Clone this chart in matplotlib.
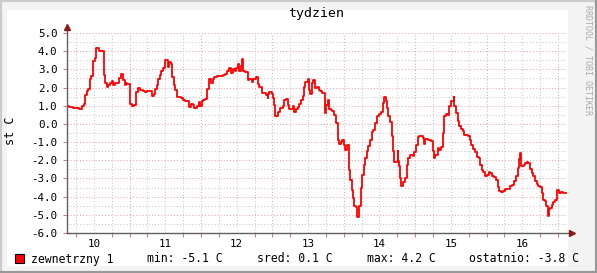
import matplotlib
matplotlib.use("Agg")
import numpy as np
import matplotlib.pyplot as plt
from matplotlib.patches import Rectangle
from matplotlib.lines import Line2D

# hours counted from midnight of day "10"
hours = [
    3.1, 3.8, 4.9, 7.1, 7.9, 8.6, 9.0, 9.7, 10.1, 10.8,
    11.2, 11.8, 12.4, 12.9, 13.9, 15.3, 15.7, 16.3, 16.9, 17.4,
    18.0, 18.6, 19.1, 20.5, 21.1, 21.9, 22.5, 22.8, 23.3, 24.2,
    24.7, 25.6, 26.2, 26.9, 27.6, 28.4, 29.3, 30.0, 31.4, 32.1,
    32.6, 33.2, 33.7, 34.3, 34.7, 35.4, 36.0, 36.9, 37.4, 38.0,
    38.3, 38.8, 39.4, 40.0, 41.4, 42.1, 42.7, 43.3, 43.9, 44.7,
    45.3, 45.8, 46.6, 47.3, 47.8, 48.4, 48.8, 49.5, 50.0, 50.7,
    51.4, 52.0, 52.5, 53.3, 55.4, 56.2, 56.8, 57.4, 58.1, 58.7,
    59.3, 59.8, 60.4, 60.9, 61.5, 61.8, 62.3, 62.9, 63.8, 64.3,
    65.2, 65.6, 66.5, 67.1, 67.6, 68.6, 69.9, 70.5, 70.7, 71.0,
    71.8, 72.3, 72.7, 73.0, 73.8, 74.4, 75.5, 76.0, 76.6, 77.2,
    77.5, 78.9, 79.4, 80.0, 80.5, 81.1, 81.6, 82.2, 82.8, 83.1,
    83.9, 84.2, 84.8, 85.3, 85.8, 86.3, 86.9, 87.6, 88.0, 88.6,
    89.8, 90.0, 90.6, 91.1, 91.6, 92.0, 92.8, 93.4, 94.0, 94.5,
    95.1, 95.4, 96.2, 96.5, 97.1, 97.9, 98.2, 98.8, 99.2, 99.5,
    100.1, 100.4, 101.2, 101.8, 102.1, 102.7, 103.1, 103.8, 104.3, 104.8,
    105.5, 105.9, 106.6, 107.1, 107.7, 108.5, 109.1, 109.6, 110.2, 110.5,
    111.0, 111.5, 112.1, 112.4, 113.0, 114.1, 114.3, 114.4, 114.9, 115.2,
    116.0, 116.6, 117.1, 117.7, 118.2, 119.1, 119.7, 120.2, 120.8, 121.4,
    122.5, 123.0, 123.4, 124.2, 125.3, 125.9, 126.4, 126.7, 127.5, 128.1,
    128.6, 129.2, 129.8, 130.3, 130.9, 131.4, 132.0, 132.9, 133.2, 133.7,
    134.3, 134.8, 135.4, 135.9, 136.5, 137.6, 138.4, 138.8, 139.5, 140.2,
    140.6, 141.3, 141.7, 142.3, 142.8, 143.4, 144.0, 144.7, 145.1, 145.8,
    146.5, 147.1, 147.7, 148.0, 148.8, 149.6, 150.2, 151.8, 152.4, 153.2,
    153.8, 154.4, 154.9, 155.3, 155.7, 156.4, 156.9, 157.4, 157.9, 158.5,
    159.1, 159.6, 160.2, 160.8, 161.3, 161.9, 162.5, 163.0, 163.7, 164.1,
    164.5, 164.8, 165.3, 165.9, 166.3, 166.9, 167.5, 167.8, 168.2, 168.9,
    169.5, 170.6,
]
temp = [
    0.97, 0.93, 0.89, 0.83, 0.96, 1.10, 1.57, 1.80, 1.94, 2.49,
    2.63, 3.46, 3.64, 4.20, 4.00, 2.67, 2.27, 2.03, 2.16, 2.25,
    2.34, 2.16, 2.25, 2.52, 2.72, 2.39, 2.16, 2.25, 2.19, 1.11,
    0.98, 1.04, 1.75, 1.97, 1.86, 1.83, 1.75, 1.79, 1.51, 1.66,
    1.94, 2.12, 2.49, 2.67, 2.89, 3.07, 3.50, 3.13, 3.40, 3.30,
    2.58, 2.16, 1.84, 1.48, 1.42, 1.33, 1.24, 1.28, 0.93, 1.11,
    1.02, 0.87, 0.98, 1.20, 0.96, 1.24, 1.29, 1.39, 1.94, 2.45,
    2.25, 2.49, 2.58, 2.63, 2.67, 2.76, 2.89, 3.07, 2.80, 3.00,
    2.89, 3.07, 3.31, 2.89, 3.18, 3.55, 2.89, 2.85, 2.39, 2.49,
    2.30, 2.49, 2.58, 2.21, 2.03, 1.72, 1.60, 1.45, 1.67, 1.74,
    1.67, 1.43, 1.06, 0.46, 0.64, 0.88, 1.00, 1.30, 1.37, 1.06,
    0.82, 1.00, 0.64, 0.82, 0.93, 1.12, 1.30, 1.56, 2.03, 2.29,
    2.48, 1.89, 1.67, 2.26, 2.40, 1.98, 2.02, 1.85, 1.80, 1.70,
    0.60, 1.06, 1.30, 0.82, 0.75, 0.70, 0.51, 0.05, -0.90, -1.09,
    -1.01, -0.90, -1.14, -1.42, -1.14, -2.52, -3.07, -3.62, -4.07, -4.50,
    -4.57, -5.12, -4.50, -3.52, -2.79, -2.24, -1.90, -1.50, -1.23, -0.86,
    -0.46, -0.35, 0.05, 0.46, 0.57, 0.64, 1.15, 1.48, 1.25, 0.88,
    0.42, 0.09, -0.68, -1.51, -2.11, -1.51, -2.06, -2.33, -2.97, -3.40,
    -3.20, -2.97, -2.24, -1.87, -1.69, -1.75, -1.56, -1.14, -0.72, -0.64,
    -0.77, -1.09, -0.83, -0.86, -0.96, -1.51, -1.87, -1.69, -1.32, -1.41,
    -1.27, -0.50, 0.42, 0.55, 0.51, 1.00, 1.25, 1.48, 1.00, 0.60,
    0.14, -0.13, -0.28, -0.40, -0.59, -0.68, -0.90, -1.14, -1.38, -1.56,
    -1.82, -1.87, -2.24, -2.52, -2.66, -2.85, -2.81, -2.66, -2.70, -2.88,
    -2.92, -3.10, -3.47, -3.71, -3.76, -3.71, -3.58, -3.40, -3.34, -3.16,
    -2.88, -2.42, -1.93, -1.60, -2.30, -2.24, -2.15, -2.09, -2.15, -2.48,
    -2.70, -2.88, -3.16, -3.29, -3.40, -3.47, -3.80, -4.20, -4.26, -4.53,
    -5.08, -4.68, -4.62, -4.44, -4.31, -4.20, -4.13, -3.65, -3.80, -3.74,
    -3.80, -3.80,
]

day_labels = ['10', '11', '12', '13', '14', '15', '16']
title = 'tydzien'
series_name = 'zewnetrzny 1'
stats = ['min: -5.1 C', 'sred: 0.1 C', 'max: 4.2 C', 'ostatnio: -3.8 C']
stats_x = [147, 257, 367, 469]

W, H = 597, 273
mono = 'DejaVu Sans Mono'
back = '#f3f3f3'

fig = plt.figure(figsize=(W / 100, H / 100), dpi=100, facecolor=back)

# white canvas and the 3d frame
fig.patches.append(Rectangle((7 / W, 1 - 266 / H), 561 / W, 256 / H,
                             transform=fig.transFigure, facecolor='white',
                             edgecolor='none', zorder=-5))
for xs, ys, c in [((0, 1), (1, 1), '#cbcbcb'), ((0, 0), (0, 1), '#cbcbcb'),
                  ((0, 1), (0, 0), '#999999'), ((1, 1), (0, 1), '#999999')]:
    fig.lines.append(Line2D(xs, ys, transform=fig.transFigure, color=c, lw=3,
                            zorder=-4))

ax = fig.add_axes([67 / W, 1 - 233 / H, 500 / W, 200 / H])
ax.set_zorder(2)
ax.set_facecolor('white')
ax.set_xlim(3.0, 171.0)
ax.set_ylim(-6, 5)

# grid: gray every 6 h / 0.5 C, red every day / 1 C
dots = (0, (1.0, 2.0))
for x in np.arange(6, 171, 6):
    major = x % 24 == 0
    ax.axvline(x, color='#e8a8a8' if major else '#c8c8c8', lw=0.75,
               linestyle=dots, zorder=1)
for y in np.arange(-5.5, 5.01, 0.5):
    major = y == int(y)
    ax.axhline(y, color='#e8a8a8' if major else '#c8c8c8', lw=0.75,
               linestyle=dots, zorder=1)

ax.step(hours, temp, where='post', color='#ff0000', lw=1.3, zorder=3)

for s in ['top', 'right', 'left', 'bottom']:
    ax.spines[s].set_visible(False)
ax.plot([0, 0], [0, 1.03], transform=ax.transAxes, color='#606060', lw=1,
        clip_on=False, zorder=4)
ax.plot([0, 1.01], [0, 0], transform=ax.transAxes, color='#606060', lw=1,
        clip_on=False, zorder=4)
ax.plot([0], [1.03], marker='^', ms=5, color='#8b1a1a', transform=ax.transAxes,
        clip_on=False, zorder=5)
ax.plot([1.01], [0], marker='>', ms=5, color='#8b1a1a', transform=ax.transAxes,
        clip_on=False, zorder=5)

ax.set_xticks(np.arange(12, 171, 24))
ax.set_xticklabels(day_labels, family=mono, fontsize=7.8)
ax.set_xticks(np.arange(6, 171, 6), minor=True)
ax.tick_params(axis='x', which='major', length=0, pad=4)
ax.tick_params(axis='x', which='minor', length=3, color='#d08080', width=0.8)
ax.set_yticks(np.arange(-6, 5.1, 1))
ax.set_yticklabels(['%.1f' % v for v in np.arange(-6, 5.1, 1)], family=mono,
                   fontsize=7.8)
ax.tick_params(axis='y', length=3, color='#d08080', width=0.8, pad=4)

fig.text(11 / W, 1 - 131 / H, 'st C', rotation=90, ha='center', va='center',
         family=mono, fontsize=8.5)
fig.text(316 / W, 1 - 14 / H, title, ha='center', va='center', family=mono,
         fontsize=9.5)
fig.text(588 / W, 1 - 60 / H, 'RRDTOOL / TOBI OETIKER', rotation=270,
         ha='center', va='center', family=mono, fontsize=6, color='#aaaaaa')

# legend
fig.patches.append(Rectangle((15 / W, 1 - 263 / H), 9 / W, 9 / H,
                             transform=fig.transFigure, facecolor='#ff0000',
                             edgecolor='black', lw=0.8))
fig.text(31 / W, 1 - 259 / H, series_name, va='center', family=mono,
         fontsize=8.3)
for txt, x in zip(stats, stats_x):
    fig.text(x / W, 1 - 259 / H, txt, va='center', family=mono, fontsize=8.3)

fig.savefig('out.png', dpi=100, facecolor=back)
